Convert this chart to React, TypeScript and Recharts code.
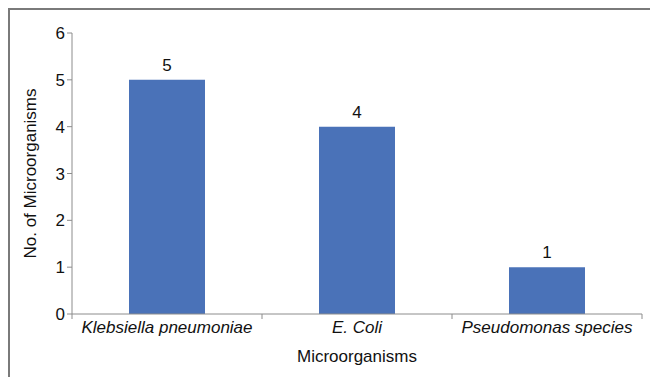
import { Bar, BarChart, LabelList, XAxis, YAxis } from 'recharts';

const categories = ['Klebsiella pneumoniae', 'E. Coli', 'Pseudomonas species'];
const counts = [5, 4, 1];
const yTicks = [0, 1, 2, 3, 4, 5, 6];

const data = categories.map((name, i) => ({ name, count: counts[i] }));

const axisColor = '#8c8c8c';
const font = '"Liberation Sans", Arial, sans-serif';

const CategoryTick = (props: any) => {
  const { x, y, payload, index, visibleTicksCount } = props;
  const half = payload.offset ?? 95;
  const last = index === (visibleTicksCount ?? categories.length) - 1;
  return (
    <g>
      <line x1={x - half} x2={x - half} y1={y - 8} y2={y - 3} stroke={axisColor} />
      {last && <line x1={x + half} x2={x + half} y1={y - 8} y2={y - 3} stroke={axisColor} />}
      <text x={x} y={y + 11} textAnchor="middle" fontSize={17} fontStyle="italic" fill="#111" fontFamily={font}>
        {payload.value}
      </text>
    </g>
  );
};

export default function App() {
  return (
    <div style={{ position: 'absolute', left: 0, top: 0, width: 650, height: 377, background: '#fff', overflow: 'hidden' }}>
      <div style={{ position: 'absolute', left: 8, top: 8, width: 700, height: 400, borderLeft: '2px solid #7a7a7a', borderTop: '2px solid #7a7a7a' }} />
      <BarChart
        width={650}
        height={377}
        data={data}
        margin={{ top: 33, right: 8, bottom: 0, left: 0 }}
        barCategoryGap="30%"
        style={{ position: 'absolute', left: 0, top: 0, fontFamily: font }}
      >
        <XAxis
          dataKey="name"
          tickLine={false}
          axisLine={{ stroke: axisColor }}
          height={63}
          interval={0}
          tick={<CategoryTick />}
          label={{ value: 'Microorganisms', position: 'insideBottom', offset: 15, fontSize: 17, fill: '#111', fontFamily: font }}
        />
        <YAxis
          width={72}
          domain={[0, 6]}
          ticks={yTicks}
          interval={0}
          tickSize={5}
          tickLine={{ stroke: axisColor }}
          axisLine={{ stroke: axisColor }}
          tick={{ fontSize: 17, fill: '#111', fontFamily: font }}
          label={{ value: 'No. of Microorganisms', angle: -90, position: 'insideLeft', offset: 30, fontSize: 17, fill: '#111', fontFamily: font, style: { textAnchor: 'middle' } }}
        />
        <Bar dataKey="count" fill="#4a72b8" isAnimationActive={false}>
          <LabelList dataKey="count" position="top" offset={9} fontSize={17} fill="#111" fontFamily={font} />
        </Bar>
      </BarChart>
    </div>
  );
}
